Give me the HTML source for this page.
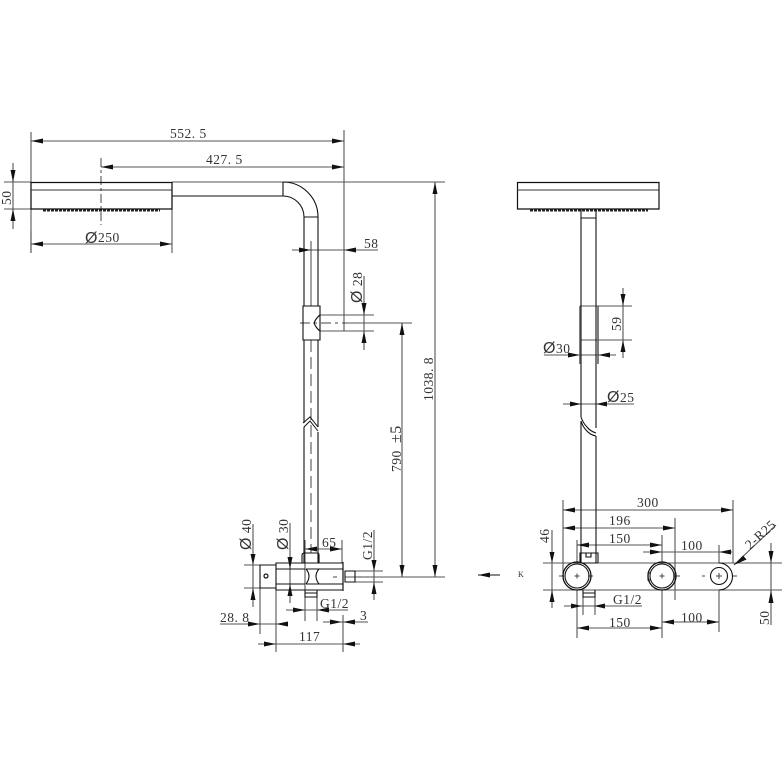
<!DOCTYPE html>
<html><head><meta charset="utf-8"><style>
html,body{margin:0;padding:0;background:#fff}
svg{display:block}
text{font-family:"Liberation Serif",serif;font-size:13.5px;fill:#333;letter-spacing:.5px}
.d{font-family:"Liberation Sans",sans-serif;font-size:16px;font-weight:400}
</style></head><body>
<svg width="782" height="782" viewBox="0 0 782 782" xmlns="http://www.w3.org/2000/svg">
<rect width="782" height="782" fill="#fff"/>
<!-- dimension / thin lines -->
<g fill="none" stroke="#555" stroke-width="1.1">
<path d="M31 132V253M344 130V331M31 141H344M101 167H344"/>
<path d="M31 231V253M172 182V253M31 244H172"/>
<path d="M4 182H31M4 209H31M13 163V229"/>
<path d="M172 182H445M292 250H378"/>
<path d="M320 315H374M320 331H374M364 276V350M346 323H412M402 323V577M435 182V577M345 577H445"/>
<path d="M244 565H276M244 588H276M253 524V607M290 523V603"/>
<path d="M305 540V590M342 540V563M305 549H342"/>
<path d="M374 530V600M355 571H383M355 582H383"/>
<path d="M286 610H348M305 597V621M317 597V621"/>
<path d="M220 624H288M260 588V634M323 622H368M343 615V652M276 590V652M258 644H360"/>
<!-- right -->
<path d="M580 306H632M580 340H632M623 288V358M544 355H616M563 404H634"/>
<path d="M563 500V576M733 500V563M563 510H733M563 528H675M675 518V600M577 540V563M662 535V563M577 545H662M643 552H732M719 545V563"/>
<path d="M543 563H782M543 590H782M552 530V608M771 543V625M564 606H642M583 597V615M595 597V615"/>
<path d="M577 590V638M662 590V638M719 590V632M577 628H662M662 622H719M734 565L776 525"/>
</g>
<!-- center lines -->
<g fill="none" stroke="#444" stroke-width="1">
<path d="M101 158V225" stroke-dasharray="9 3 3 3"/>
<path d="M311 241V306"/>
<path d="M311 340V553" stroke-dasharray="12 5"/>
<path d="M300 323H346" stroke-dasharray="10 4 3 4"/>
<path d="M358 577H373" stroke-dasharray="4 3"/>
<path d="M333 577H337"/>
<path d="M574.500 576H579.500M577 573.500V578.500M659.500 576H664.500M662 573.500V578.500M716 576H722M719 573V579"/>
<path d="M559 576H564M588 576H593M676 576H680M702 576H705M733 576H737"/>
</g>
<!-- object lines -->
<g fill="none" stroke="#111" stroke-width="1.1">
<path d="M31 182.500H172V209H31Z" stroke-width="1.2"/>
<path d="M31 190H172" stroke="#333"/>
<path d="M172 196H283V182M283 182A35 35 0 0 1 318 217V306M283 196A21 21 0 0 1 304 217V306M304 217H318"/>
<path d="M303 306H320V340H303Z"/>
<path d="M320 315Q316 318 314 323Q316 328 320 331M304 340V423M318 340V427M304 427V563M318 432V563"/>
<path d="M303 423L310 417L318 427M304 427L310 421L318 431" stroke-width="1"/>
<!-- valve -->
<path d="M276 563H343V590H276ZM260 565H276V588H260ZM276 569H305M276 584H305M319 569H343M319 584H343"/>
<path d="M306 569Q312 576 306 584M319 569Q313 576 319 584M306 569H319M306 584H319"/>
<path d="M345 571H355V582H345ZM343 562V591"/>
<path d="M302 563V555Q302 553 305 553H317Q319 553 319 555V563"/>
<path d="M305 590V597H317V590M305 593H317"/>
<circle cx="266" cy="576" r="2" stroke-width="1.200"/>
<!-- right -->
<path d="M517.500 182.500H659V209H517.500Z" stroke-width="1.200"/>
<path d="M517 190H659" stroke="#333"/>
<path d="M581 209V417M596 209V428M581 218H596"/>
<path d="M581 417Q583 423 587 427Q590 431 596 433M581 421Q583 427 586 430Q590 435 596 436M581 421V563M596 436V563" stroke-width="1.100"/>
<path d="M580 306V364M598 306V364" stroke="#555" stroke-width="1.500"/>
<path d="M580 563V553H598V563M586 553V557H591V553M580 563H598"/>
<circle cx="577" cy="576" r="14" stroke-width="1.300"/>
<circle cx="577" cy="576" r="12"/>
<circle cx="662" cy="576" r="14" stroke-width="1.300"/>
<circle cx="662" cy="576" r="12"/>
<path d="M650 573H648V580H650"/>
<circle cx="719" cy="576" r="8.500"/>
<path d="M719 563A13.500 13.500 0 0 1 719 590"/>
<path d="M583 590V597H595V590M583 593H595"/>
<path d="M478 575H500"/>
</g>
<!-- nozzles -->
<g stroke="#222" stroke-width="2" fill="none" stroke-dasharray="3 1">
<path d="M43 210.500H160"/><path d="M530 210.500H648"/>
</g>
<!-- arrows -->
<path fill="#111" d="
M31 141l12-2.500v5zM344 141l-12-2.500v5z
M101 167l12-2.500v5zM344 167l-12-2.500v5z
M31 244l12-2.500v5zM172 244l-12-2.500v5z
M13 182l-2.500-12h5zM13 209l-2.500 12h5z
M311 250l-12-2.500v5z
M344 250l12-2.500v5z
M364 315l-2.500-12h5zM364 331l-2.500 12h5z
M402 323l-2.500 12h5zM435 182l-2.500 12h5z
M402 577l-2.500-12h5zM435 577l-2.500-12h5z
M253 565l-2.500-11h5zM253 588l-2.500 12h5z
M290 569l-2.500-12h5zM290 584l-2.500 12h5z
M305 549l12-2.500v5zM342 549l-12-2.500v5z
M374 571l-2.500-11h5zM374 582l-2.500 12h5z
M305 610l-12-2.500v5zM317 610l12-2.500v5z
M260 624l-12-2.500v5zM276 624l12-2.500v5z
M342 622l-12-2.500v5zM343 622l12-2.500v5z
M276 644l-12-2.500v5zM343 644l12-2.500v5z
M623 306l-2.500-12h5zM623 340l-2.500 12h5z
M580 355l-12-2.500v5zM598 355l12-2.500v5z
M581 404l-11-2.500v5zM596 404l11-2.500v5z
M563 510l12-2.500v5zM733 510l-12-2.500v5z
M563 528l12-2.500v5zM675 528l-12-2.500v5z
M577 545l12-2.500v5zM662 545l-12-2.500v5z
M662 552l-12-2.500v5zM719 552l12-2.500v5z
M552 563l-2.500-11h5zM552 590l-2.500 12h5z
M771 563l-2.500-12h5zM771 590l-2.500 13h5z
M582 606l-11-2.500v5zM594 606l11-2.500v5z
M577 628l12-2.500v5zM662 628l-12-2.500v5z
M662 622l12-2.500v5zM719 622l-12-2.500v5z
M734 565l9-9.500l3.500 4z
M478 575l12-2.500v5z"/>
<!-- labels -->
<text x="170" y="138">552. 5</text>
<text x="206" y="164">427. 5</text>
<text x="85" y="243"><tspan class="d">Ø</tspan></text>
<text x="98" y="242">250</text>
<text x="364" y="248">58</text>
<text transform="translate(11,205) rotate(-90)">50</text>
<text transform="translate(362,303) rotate(-90)"><tspan class="d">Ø</tspan> 28</text>
<text transform="translate(433,401) rotate(-90)">1038. 8</text>
<text transform="translate(401,472) rotate(-90)">790</text>
<text transform="translate(401,443) rotate(-90)" style="font-size:16px">±5</text>
<text transform="translate(251,550) rotate(-90)"><tspan class="d">Ø</tspan> 40</text>
<text transform="translate(288,550) rotate(-90)"><tspan class="d">Ø</tspan> 30</text>
<text x="322" y="547">65</text>
<text transform="translate(372,560) rotate(-90)">G1/2</text>
<text x="320" y="608">G1/2</text>
<text x="220" y="622">28. 8</text>
<text x="360" y="620">3</text>
<text x="299" y="641">117</text>
<text x="518" y="577" style="font-size:8px">K</text>
<text x="543" y="353"><tspan class="d">Ø</tspan></text>
<text x="556" y="353">30</text>
<text x="607" y="402"><tspan class="d">Ø</tspan></text>
<text x="620" y="402">25</text>
<text transform="translate(621,331) rotate(-90)">59</text>
<text x="637" y="507">300</text>
<text x="609" y="525">196</text>
<text x="609" y="543">150</text>
<text x="681" y="550">100</text>
<text transform="translate(549,543) rotate(-90)">46</text>
<text transform="translate(750,550) rotate(-42)">2-R25</text>
<text transform="translate(769,625) rotate(-90)">50</text>
<text x="613" y="604">G1/2</text>
<text x="609" y="627">150</text>
<text x="681" y="622">100</text>
</svg>
</body></html>
